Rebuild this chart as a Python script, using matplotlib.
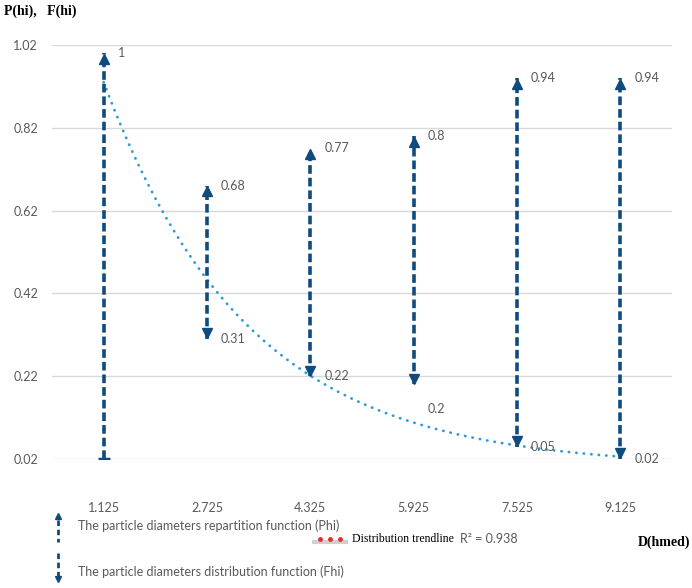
import numpy as np
import matplotlib.pyplot as plt
from matplotlib.lines import Line2D
from matplotlib.transforms import offset_copy

# data
categories = ['1.125', '2.725', '4.325', '5.925', '7.525', '9.125']
p_hi = [1.0, 0.68, 0.77, 0.8, 0.94, 0.94]        # repartition function (top, arrow up)
f_hi = [1.0, 0.31, 0.22, 0.2, 0.05, 0.02]        # distribution function (bottom, arrow down)
line_low = [0.02, 0.31, 0.22, 0.2, 0.05, 0.02]   # lower end of each drawn line
yticks = [0.02, 0.22, 0.42, 0.62, 0.82, 1.02]

W, H = 692, 588
navy = '#0f4c7d'
trend_c = '#2e9ad8'
grey = '#595959'

def fx(x):
    return x / W

def fy(y):
    return 1 - y / H

fig = plt.figure(figsize=(W / 100, H / 100), dpi=100)
ax = fig.add_axes([fx(52), fy(459), 620 / W, 414 / H])
x = np.arange(1, len(categories) + 1)

ax.set_xlim(0.5, 6.5)
ax.set_ylim(0.02, 1.02)
ax.set_yticks(yticks)
ax.set_yticklabels(['%.2f' % v for v in yticks])
ax.set_xticks(x)
ax.set_xticklabels(categories)
ax.tick_params(length=0, labelsize=9, labelcolor=grey)
ax.tick_params(axis='y', pad=10)
ax.tick_params(axis='x', pad=31)
for lab in ax.get_xticklabels() + ax.get_yticklabels():
    lab.set_family('Lato')
for s in ax.spines.values():
    s.set_visible(False)
ax.grid(axis='y', color='#d9d9d9', lw=1)
ax.set_axisbelow(True)

# exponential trendline fitted on F(hi)
b, lna = np.polyfit(x, np.log(f_hi), 1)
xs = np.linspace(1, 6, 200)
ax.plot(xs, np.exp(lna) * np.exp(b * xs), color=trend_c, lw=2,
        linestyle=(0, (0.1, 2.6)), dash_capstyle='round', zorder=2)

# hi-lo lines
ax.vlines(x, line_low, p_hi, colors=navy, lw=2.6, linestyles=(0, (2.4, 1.1)), zorder=3)
up_tr = offset_copy(ax.transData, fig=fig, x=0, y=-4, units='points')
dn_tr = offset_copy(ax.transData, fig=fig, x=0, y=4, units='points')
ax.plot(x, p_hi, '^', color=navy, ms=7.5, transform=up_tr, zorder=4)
ax.plot(x[1:], f_hi[1:], 'v', color=navy, ms=7.5, transform=dn_tr, zorder=4)
ax.plot(x[:1], line_low[:1], '_', color=navy, ms=9, mew=2.5, zorder=4)

for xi, v in zip(x, p_hi):
    ax.annotate('%g' % v, (xi, v), xytext=(10, 0), textcoords='offset points',
                va='center', ha='left', fontsize=9, color=grey, family='Lato')
low_dy = [0, 0, 0, -18, 0, 0]
for xi, v, dy in zip(x[1:], f_hi[1:], low_dy[1:]):
    ax.annotate('%g' % v, (xi, v), xytext=(10, dy), textcoords='offset points',
                va='center', ha='left', fontsize=9, color=grey, family='Lato')

# axis titles
fig.text(fx(4), fy(11), 'P(hi),   F(hi)', fontsize=10, fontweight='bold',
         family='Liberation Serif', va='center', ha='left')
fig.text(fx(690), fy(542), 'D(hmed)', fontsize=10, fontweight='bold',
         family='Liberation Serif', va='center', ha='right')

# legend
fig.add_artist(Line2D([fx(58), fx(58)], [fy(520), fy(542)], color=navy, lw=2,
                      linestyle=(0, (2, 1.3)), transform=fig.transFigure))
fig.add_artist(Line2D([fx(58)], [fy(516)], marker='^', ms=5, color=navy,
                      transform=fig.transFigure))
fig.add_artist(Line2D([fx(58), fx(58)], [fy(553), fy(576)], color=navy, lw=2,
                      linestyle=(0, (2, 1.3)), transform=fig.transFigure))
fig.add_artist(Line2D([fx(58)], [fy(579)], marker='v', ms=5, color=navy,
                      transform=fig.transFigure))
fig.text(fx(78), fy(526), 'The particle diameters repartition function (Phi)',
         fontsize=9, color=grey, family='Lato', va='center')
fig.text(fx(78), fy(572), 'The particle diameters distribution function (Fhi)',
         fontsize=9, color=grey, family='Lato', va='center')

fig.add_artist(Line2D([fx(314), fx(346)], [fy(542), fy(542)], color='#d0d0d0', lw=3,
                      transform=fig.transFigure))
fig.add_artist(Line2D([fx(320), fx(330), fx(340)], [fy(539)] * 3, ls='none', marker='o',
                      ms=2.5, color='#e03030', transform=fig.transFigure))
fig.text(fx(352), fy(539), 'Distribution trendline', fontsize=8.5,
         family='Liberation Serif', va='center')
fig.text(fx(460), fy(539), 'R² = 0.938', fontsize=9, color=grey, family='Lato', va='center')

fig.savefig('out.png', dpi=100)
